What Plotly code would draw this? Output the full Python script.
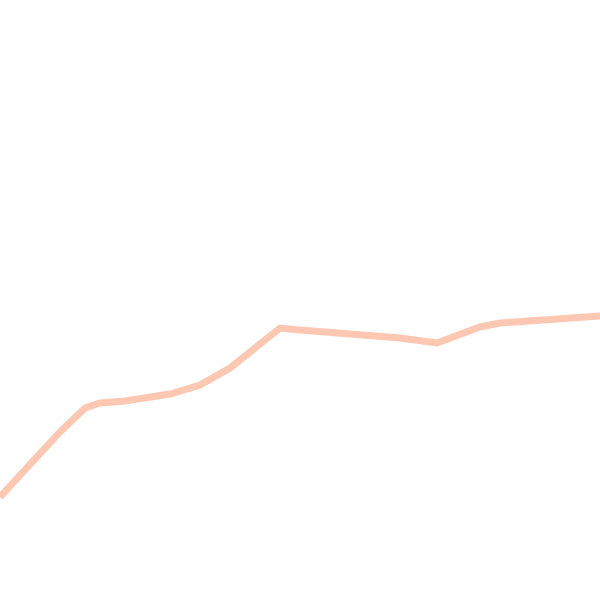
import plotly.graph_objects as go

# points (x to the right, y downward, 0-600)
x_vals = [0, 30, 60, 85, 100, 125, 150, 170, 200, 230, 255, 280, 300, 330, 370, 400, 437, 460, 480, 500, 540, 600]
y_vals = [497, 465, 432, 408, 403, 401, 398, 394, 385, 368, 348, 328, 330, 332, 335, 338, 343, 335, 327, 323, 320, 316]

fig = go.Figure()
fig.add_trace(go.Scatter(
    x=x_vals, y=y_vals, mode="lines",
    line=dict(color="rgba(252,175,145,0.7)", width=7),
    hoverinfo="skip", showlegend=False,
))

fig.update_layout(
    width=600, height=600,
    margin=dict(l=0, r=0, t=0, b=0),
    paper_bgcolor="white", plot_bgcolor="white",
    xaxis=dict(range=[0, 600], visible=False, fixedrange=True),
    yaxis=dict(range=[600, 0], visible=False, fixedrange=True),
)
# drop the page's default body margin so the figure sits at 0,0
fig.write_html("out.html", config={"displayModeBar": False},
               post_script="document.body.style.margin='0';document.body.style.overflow='hidden';")
